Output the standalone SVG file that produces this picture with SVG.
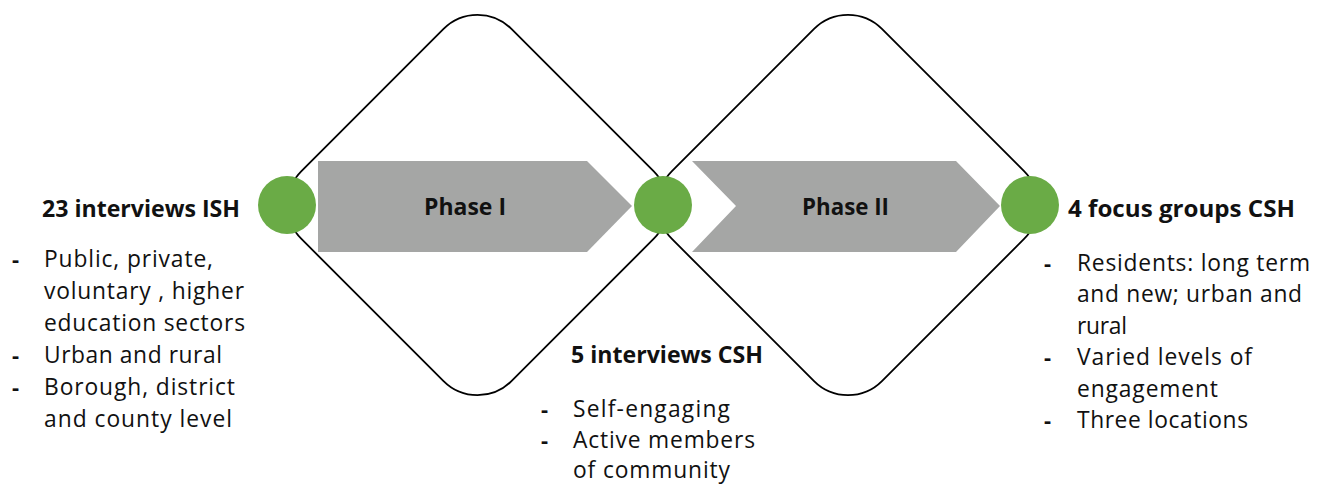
<svg xmlns="http://www.w3.org/2000/svg" width="1328" height="484" viewBox="0 0 1328 484">
<style>
.dia{fill:none;stroke:#000;stroke-width:1.8}
.arr{fill:#A5A6A5}
.dot{fill:#6AAB46}
.ph{font-family:"Open Sans",Lato,sans-serif;font-weight:bold;font-size:24px;fill:#111}
.hd{font-family:"Open Sans",Lato,sans-serif;font-weight:bold;font-size:22.5px;fill:#111}
.tx{font-family:"Open Sans",Lato,sans-serif;font-size:22.8px;fill:#111}
.bl{font-family:"Open Sans",Lato,sans-serif;font-weight:bold;font-size:22px;fill:#111}
</style>
<g id="connectors">
<rect class="dia" x="-148.5" y="-148.5" width="297" height="297" rx="48" transform="translate(477.5,205) rotate(45)"/>
<rect class="dia" x="-148.5" y="-148.5" width="297" height="297" rx="48" transform="translate(848,205) rotate(45)"/>
</g>
<g id="phase1">
<polygon class="arr" points="318,161 587,161 632,206 587,252 318,252"/>
<text class="ph" x="424" y="215" textLength="82" lengthAdjust="spacingAndGlyphs">Phase I</text>
</g>
<g id="phase2">
<polygon class="arr" points="692,161 956,161 1000,206 956,252 692,252 736,206"/>
<text class="ph" x="802" y="215" textLength="87" lengthAdjust="spacingAndGlyphs">Phase II</text>
</g>
<g id="node-start"><circle class="dot" cx="287" cy="205" r="29"/></g>
<g id="node-mid"><circle class="dot" cx="663" cy="205" r="29"/></g>
<g id="node-end"><circle class="dot" cx="1030" cy="205" r="29"/></g>
<g id="text-left">
<text class="hd" x="42" y="217" textLength="198" lengthAdjust="spacingAndGlyphs">23 interviews ISH</text>
<text class="bl" x="12" y="267">-</text><text class="tx" x="44" y="267" textLength="169" lengthAdjust="spacing">Public, private,</text>
<text class="tx" x="44" y="299" textLength="200" lengthAdjust="spacing">voluntary , higher</text>
<text class="tx" x="44" y="331" textLength="201" lengthAdjust="spacing">education sectors</text>
<text class="bl" x="12" y="363">-</text><text class="tx" x="44" y="363" textLength="178" lengthAdjust="spacing">Urban and rural</text>
<text class="bl" x="12" y="395">-</text><text class="tx" x="44" y="395" textLength="191" lengthAdjust="spacing">Borough, district</text>
<text class="tx" x="44" y="427" textLength="188" lengthAdjust="spacing">and county level</text>
</g>
<g id="text-mid">
<text class="hd" x="571" y="363" textLength="192" lengthAdjust="spacingAndGlyphs">5 interviews CSH</text>
<text class="bl" x="541" y="417">-</text><text class="tx" x="573" y="417" textLength="157" lengthAdjust="spacing">Self-engaging</text>
<text class="bl" x="541" y="448">-</text><text class="tx" x="573" y="448" textLength="182" lengthAdjust="spacing">Active members</text>
<text class="tx" x="573" y="478" textLength="157" lengthAdjust="spacing">of community</text>
</g>
<g id="text-right">
<text class="hd" x="1068" y="217" textLength="227" lengthAdjust="spacingAndGlyphs">4 focus groups CSH</text>
<text class="bl" x="1044" y="271">-</text><text class="tx" x="1077" y="271" textLength="233" lengthAdjust="spacing">Residents: long term</text>
<text class="tx" x="1077" y="302" textLength="225" lengthAdjust="spacing">and new; urban and</text>
<text class="tx" x="1077" y="334" textLength="50" lengthAdjust="spacing">rural</text>
<text class="bl" x="1044" y="365">-</text><text class="tx" x="1077" y="365" textLength="175" lengthAdjust="spacing">Varied levels of</text>
<text class="tx" x="1077" y="397" textLength="141" lengthAdjust="spacing">engagement</text>
<text class="bl" x="1044" y="428">-</text><text class="tx" x="1077" y="428" textLength="171" lengthAdjust="spacing">Three locations</text>
</g>
</svg>
